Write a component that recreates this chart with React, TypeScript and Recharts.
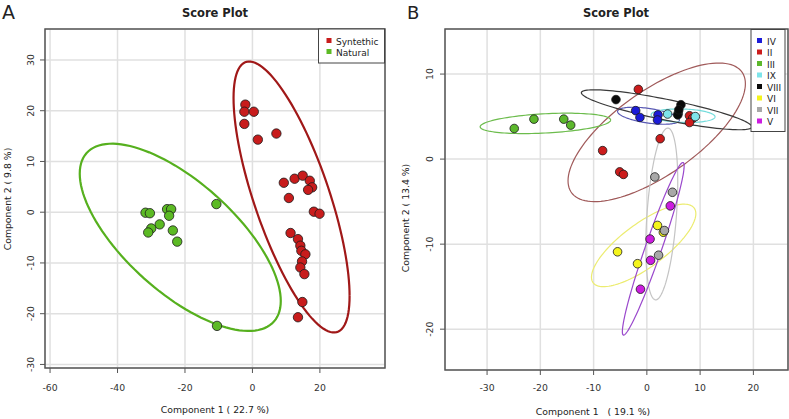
import React from 'react';
import { ScatterChart, Scatter, XAxis, YAxis, CartesianGrid, ReferenceArea } from 'recharts';

const FONT = '"DejaVu Sans", Verdana, sans-serif';

// ---- panel A: Synthetic vs Natural ----
const aXTicks = [-60, -40, -20, 0, 20];
const aYTicks = [-30, -20, -10, 0, 10, 20, 30];
const syntheticPts = [
  [-2.1, 21.2], [-2.4, 19.8], [0.4, 19.8], [-2.4, 17.4], [7.1, 15.5], [1.6, 14.3],
  [9.3, 5.8], [12.5, 6.6], [14.9, 7.2], [17.0, 6.2], [17.7, 4.9], [16.5, 4.4],
  [10.8, 2.8], [18.2, 0.1], [19.9, -0.3], [11.3, -4.1], [13.5, -5.3], [14.2, -6.6],
  [14.5, -7.6], [15.7, -8.3], [14.7, -9.7], [14.2, -10.9], [15.4, -12.2],
  [14.8, -17.7], [13.5, -20.7],
];
const naturalPts = [
  [-31.7, -0.1], [-30.4, -0.2], [-25.3, 0.6], [-24.1, 0.6], [-24.7, -0.7],
  [-27.5, -2.4], [-30.0, -3.2], [-30.9, -4.0], [-23.6, -3.6], [-22.3, -5.8],
  [-10.7, 1.6], [-10.5, -22.4],
];
// ellipse: [cx, cy, half x-extent, half y-extent, y-offset ratio at rightmost point]
const syntheticEllipse = [11.6, 3.0, 17.2, 26.7, -0.73];
const naturalEllipse = [-21.4, -4.95, 29.8, 18.45, -0.68];

// ---- panel B: groups ----
const bXTicks = [-30, -20, -10, 0, 10, 20];
const bYTicks = [-20, -10, 0, 10];
const groupNames = ['IV', 'II', 'III', 'IX', 'VIII', 'VI', 'VII', 'V'];
const groupFill = ['#1c1cd8', '#cc1c1c', '#5cb82c', '#7ee4ea', '#0a0a0a', '#f4f41c', '#a8a8a8', '#cc1ce0'];
const groupLine = ['#5a5ab4', '#a05a5a', '#6cbc4c', '#74dcdc', '#3a3a3a', '#ecec70', '#c4c4c4', '#9a48cc'];
const ptsIV = [[-2.1, 5.7], [-1.3, 4.9], [2.1, 5.2], [2.0, 4.6]];
const ptsII = [[-1.6, 8.2], [-8.3, 1.0], [-5.1, -1.5], [-4.4, -1.8], [2.5, 2.4], [8.0, 5.1], [8.6, 4.8], [8.0, 4.3]];
const ptsIII = [[-24.9, 3.6], [-21.2, 4.7], [-15.6, 4.7], [-14.3, 4.0]];
const ptsIX = [[3.9, 5.3], [5.9, 5.4], [9.1, 5.0]];
const ptsVIII = [[-5.8, 7.0], [6.4, 6.4], [5.8, 5.2], [6.0, 5.8]];
const ptsVI = [[2.0, -7.8], [3.1, -8.6], [-5.5, -10.9], [-1.75, -12.3]];
const ptsVII = [[1.5, -2.1], [4.8, -3.9], [3.3, -8.4], [2.2, -11.3]];
const ptsV = [[4.4, -5.5], [0.6, -9.4], [0.7, -11.9], [-1.2, -15.3]];
const ellipseIV = [0.3, 5.1, 5.8, 1.0, -0.5];
const ellipseII = [1.85, 3.15, 16.65, 8.15, 0.7];
const ellipseIII = [-19.05, 4.2, 12.25, 1.2, 0.33];
const ellipseIX = [6.8, 5.1, 6.0, 0.8, -0.15];
const ellipseVIII = [3.7, 5.8, 16.0, 2.35, -0.85];
const ellipseVI = [-0.6, -10.15, 9.8, 4.85, 0.77];
const ellipseVII = [2.8, -6.45, 3.0, 10.1, 0.38];
const ellipseV = [1.2, -10.55, 5.8, 10.15, 0.96];

const groupPts = [ptsIV, ptsII, ptsIII, ptsIX, ptsVIII, ptsVI, ptsVII, ptsV];
const groupEllipses = [ellipseIV, ellipseII, ellipseIII, ellipseIX, ellipseVIII, ellipseVI, ellipseVII, ellipseV];

function outline(e: number[]) {
  const [cx, cy, rx, ry, c] = e;
  const phi = Math.acos(c);
  const out: { x: number; y: number }[] = [];
  for (let i = 0; i <= 120; i++) {
    const t = (i / 120) * Math.PI * 2;
    out.push({ x: cx + rx * Math.cos(t), y: cy + ry * Math.cos(t - phi) });
  }
  return out;
}

const toXY = (pts: number[][]) => pts.map(([x, y]) => ({ x, y }));

const dot = (r: number, fill: string) => (p: any) => (
  <circle cx={p.cx} cy={p.cy} r={r} fill={fill} stroke="#1a1a1a" strokeWidth={0.8} />
);

const RotTick = (shift: number) => (p: any) => {
  const x = p.x + shift;
  return (
    <text x={x} y={p.y} transform={`rotate(-90 ${x} ${p.y})`} textAnchor="middle" fontSize={9.3} fill="#333" fontFamily={FONT}>
      {p.payload.value}
    </text>
  );
};

interface PanelProps {
  width: number;
  height: number;
  margin: { top: number; right: number; bottom: number; left: number };
  xDomain: number[];
  yDomain: number[];
  xTicks: number[];
  yTicks: number[];
  ellipses: { data: number[]; color: string; width: number }[];
  series: { pts: number[][]; fill: string; r: number }[];
  xTickMargin: number;
  yShift: number;
}

function Panel(props: PanelProps) {
  const { xDomain, yDomain } = props;
  return (
    <ScatterChart width={props.width} height={props.height} margin={props.margin}>
      <CartesianGrid stroke="#e0e0e0" strokeWidth={1.5} />
      <XAxis
        type="number" dataKey="x" domain={xDomain} ticks={props.xTicks} allowDataOverflow interval={0}
        axisLine={false} tickLine={{ stroke: '#555' }} tickSize={5} tickMargin={props.xTickMargin} height={30}
        tick={{ fontSize: 9.3, fill: '#333', fontFamily: FONT }}
      />
      <YAxis
        type="number" dataKey="y" domain={yDomain} ticks={props.yTicks} allowDataOverflow interval={0}
        axisLine={false} tickLine={{ stroke: '#555' }} tickSize={5} width={40}
        tick={RotTick(props.yShift)}
      />
      <ReferenceArea x1={xDomain[0]} x2={xDomain[1]} y1={yDomain[0]} y2={yDomain[1]} fill="none" stroke="#555" strokeWidth={1.5} ifOverflow="visible" />
      {props.ellipses.map((e, i) => (
        <Scatter key={'e' + i} data={outline(e.data)} line={{ stroke: e.color, strokeWidth: e.width }} lineType="joint" shape={() => <g />} isAnimationActive={false} />
      ))}
      {props.series.map((s, i) => (
        <Scatter key={'s' + i} data={toXY(s.pts)} shape={dot(s.r, s.fill)} isAnimationActive={false} />
      ))}
    </ScatterChart>
  );
}

export default function App() {
  const text = { fontFamily: FONT, fill: '#222' };
  return (
    <div style={{ position: 'absolute', left: 0, top: 0, width: 789, height: 419, background: '#fff', overflow: 'hidden' }}>
      <div style={{ position: 'absolute', left: 0, top: 0 }}>
        <Panel
          width={390} height={419} margin={{ top: 29, right: 5, bottom: 21, left: 5 }}
          xDomain={[-61.5, 39.3]} yDomain={[-30.7, 36.1]} xTicks={aXTicks} yTicks={aYTicks}
          ellipses={[
            { data: naturalEllipse, color: '#56b01e', width: 2.2 },
            { data: syntheticEllipse, color: '#a01818', width: 2.2 },
          ]}
          series={[
            { pts: naturalPts, fill: '#5cba24', r: 4.7 },
            { pts: syntheticPts, fill: '#c81c1c', r: 4.7 },
          ]}
          xTickMargin={11} yShift={-4}
        />
      </div>
      <div style={{ position: 'absolute', left: 390, top: 0 }}>
        <Panel
          width={399} height={419} margin={{ top: 29, right: 1, bottom: 19, left: 15 }}
          xDomain={[-37.9, 26.5]} yDomain={[-24.8, 15.3]} xTicks={bXTicks} yTicks={bYTicks}
          ellipses={groupEllipses.map((e, i) => ({ data: e, color: groupLine[i], width: 1.2 }))}
          series={groupPts.map((p, i) => ({ pts: p, fill: groupFill[i], r: 4.3 }))}
          xTickMargin={9} yShift={-5}
        />
      </div>
      <svg width={789} height={419} style={{ position: 'absolute', left: 0, top: 0, pointerEvents: 'none' }}>
        <text x={2} y={19} fontSize={19} {...text}>A</text>
        <text x={407} y={19} fontSize={18} {...text}>B</text>
        <text x={215} y={17} fontSize={11.5} fontWeight="bold" textAnchor="middle" {...text}>Score Plot</text>
        <text x={616} y={17} fontSize={11.5} fontWeight="bold" textAnchor="middle" {...text}>Score Plot</text>
        <text x={215} y={413} fontSize={9.3} textAnchor="middle" {...text}>Component 1 ( 22.7 %)</text>
        <text x={593} y={415} fontSize={9.3} textAnchor="middle" {...text} xmlSpace="preserve">Component 1   ( 19.1 %)</text>
        <text x={11} y={199} fontSize={9.3} textAnchor="middle" transform="rotate(-90 11 199)" {...text}>Component 2 ( 9.8 %)</text>
        <text x={409} y={218} fontSize={9.3} textAnchor="middle" transform="rotate(-90 409 218)" {...text}>Component 2 ( 13.4 %)</text>

        <rect x={318.5} y={29} width={66} height={34} fill="#fff" stroke="#444" strokeWidth={1} />
        {['Syntethic', 'Natural'].map((name, i) => (
          <g key={name}>
            <rect x={326.5} y={38 + i * 11} width={5} height={5} fill={i === 0 ? '#c81c1c' : '#5cba24'} />
            <text x={336} y={44.5 + i * 11} fontSize={9} {...text}>{name}</text>
          </g>
        ))}

        <rect x={751} y={29.5} width={34} height={102} fill="#fff" stroke="#444" strokeWidth={1} />
        {groupNames.map((name, i) => (
          <g key={name}>
            <rect x={757} y={38 + i * 11.5} width={5} height={5} fill={groupFill[i]} />
            <text x={767} y={44.5 + i * 11.5} fontSize={9} {...text}>{name}</text>
          </g>
        ))}
      </svg>
    </div>
  );
}
